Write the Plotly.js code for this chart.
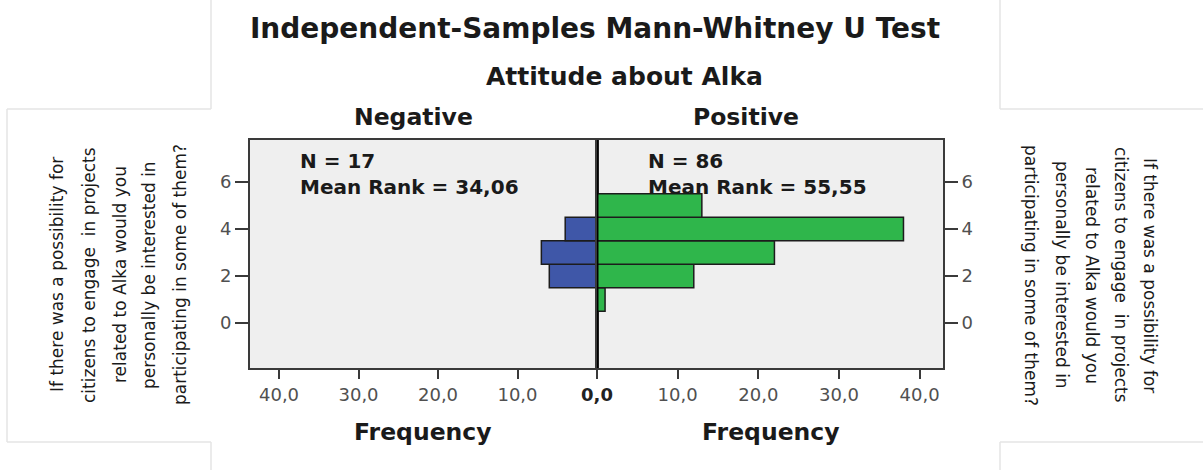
<!DOCTYPE html>
<html>
<head>
<meta charset="utf-8">
<script src="https://cdn.plot.ly/plotly-3.0.1.min.js"></script>
<style>
html,body{margin:0;padding:0;background:#fff;}
#chart{width:1203px;height:470px;}
</style>
</head>
<body>
<div id="chart"></div>
<script>
// ---- data ----
const bins = [1, 2, 3, 4, 5];
const negativeFreq = [0, 6, 7, 4, 0];
const positiveFreq = [1, 12, 22, 38, 13];
const groupNames = ['Negative', 'Positive'];
const groupN = [17, 86];
const groupMeanRank = ['34,06', '55,55'];
const xTickVals = [0, 10, 20, 30, 40];
const xTickText = ['0,0', '10,0', '20,0', '30,0', '40,0'];
const yTickVals = [0, 2, 4, 6];
const mainTitle = 'Independent-Samples Mann-Whitney U Test';
const groupingTitle = 'Attitude about Alka';
const xTitle = 'Frequency';
const questionLines = [
  'If there was a possibility for',
  'citizens to engage  in projects',
  'related to Alka would you',
  'personally be interested in',
  'participating in some of them?'
];

// ---- helpers (pixel -> paper) ----
const W = 1203, H = 470;
const px = v => v / W;
const py = v => 1 - v / H;

const FONT = 'DejaVu Sans, Liberation Sans, Arial, sans-serif';
const plotTop = 140, plotBottom = 368, plotLeft = 250, plotMid = 597, plotRight = 943;
const yRange = [-1.915, 7.787];

const traces = [
  {
    type: 'bar', orientation: 'h', y: bins, x: negativeFreq, width: 1,
    xaxis: 'x', yaxis: 'y',
    marker: {color: '#3F57A8', line: {color: '#1c1c1c', width: 1.5}},
    hoverinfo: 'x+y', showlegend: false
  },
  {
    type: 'bar', orientation: 'h', y: bins, x: positiveFreq, width: 1,
    xaxis: 'x2', yaxis: 'y2',
    marker: {color: '#2FB64B', line: {color: '#1c1c1c', width: 1.5}},
    hoverinfo: 'x+y', showlegend: false
  }
];

const axisLine = {showline: true, linecolor: '#3a3a3a', linewidth: 2, mirror: true,
  showgrid: false, zeroline: false, ticks: 'outside', tickcolor: '#3a3a3a', tickwidth: 2};

const tickFont = {family: FONT, size: 18, color: '#505050'};

const layout = {
  width: W, height: H,
  margin: {l: 0, r: 0, t: 0, b: 0},
  paper_bgcolor: '#ffffff',
  plot_bgcolor: '#EFEFEF',
  bargap: 0,
  title: {
    text: '<b>' + mainTitle + '</b>',
    x: px(595), y: py(28), xanchor: 'center', yanchor: 'middle',
    xref: 'paper', yref: 'paper',
    font: {family: FONT, size: 28, color: '#1a1a1a'}
  },
  xaxis: Object.assign({}, axisLine, {
    domain: [px(plotLeft), px(plotMid)], range: [43.65, 0], anchor: 'y',
    tickmode: 'array', tickvals: xTickVals,
    ticktext: xTickText.map((t, i) => i === 0 ? '<b><span style="color:#222">' + t + '</span></b>' : t),
    ticklen: 9, tickfont: tickFont
  }),
  xaxis2: Object.assign({}, axisLine, {
    domain: [px(plotMid), px(plotRight)], range: [0, 42.9], anchor: 'y2',
    tickmode: 'array', tickvals: xTickVals,
    ticktext: xTickText.map((t, i) => i === 0 ? '' : t),
    ticklen: 9, tickfont: tickFont
  }),
  yaxis: Object.assign({}, axisLine, {
    domain: [py(plotBottom), py(plotTop)], range: yRange, anchor: 'x',
    tickmode: 'array', tickvals: yTickVals, ticklen: 13, tickfont: tickFont
  }),
  yaxis2: Object.assign({}, axisLine, {
    domain: [py(plotBottom), py(plotTop)], range: yRange, anchor: 'x2', side: 'right',
    tickmode: 'array', tickvals: yTickVals, ticklen: 13, tickfont: tickFont
  }),
  shapes: [
    // central divider
    {type: 'line', xref: 'x2', yref: 'paper', x0: 0, x1: 0,
     y0: py(plotBottom), y1: py(plotTop), line: {color: '#000', width: 3}},
    // faint page frame artifacts
    ...[
      [211, 0, 211, 109], [7, 109, 211, 109], [7, 109, 7, 442], [7, 442, 211, 442], [211, 442, 211, 470],
      [1000, 0, 1000, 109], [1000, 109, 1203, 109], [1000, 442, 1203, 442], [1000, 442, 1000, 470]
    ].map(s => ({type: 'line', xref: 'paper', yref: 'paper', layer: 'below',
      x0: px(s[0]), y0: py(s[1]), x1: px(s[2]), y1: py(s[3]),
      line: {color: '#E4E4E4', width: 1.5}}))
  ],
  annotations: []
};

const ann = layout.annotations;
const addText = (text, x, y, size, opts) => ann.push(Object.assign({
  text: text, x: px(x), y: py(y), xref: 'paper', yref: 'paper',
  xanchor: 'center', yanchor: 'middle', showarrow: false,
  font: {family: FONT, size: size, color: '#1a1a1a'}
}, opts || {}));

addText('<b>' + groupingTitle + '</b>', 624, 76, 25);
addText('<b>' + groupNames[0] + '</b>', 413, 117, 23.5);
addText('<b>' + groupNames[1] + '</b>', 746, 117, 23.5);
addText('<b>' + xTitle + '</b>', 423, 432, 23.5);
addText('<b>' + xTitle + '</b>', 771, 432, 23.5);

// N / mean rank boxes (one text block per group)
addText('<b>N = ' + groupN[0] + '<br>Mean Rank = ' + groupMeanRank[0] + '</b>', 298, 174, 20,
  {xanchor: 'left', align: 'left'});
addText('<b>N = ' + groupN[1] + '<br>Mean Rank = ' + groupMeanRank[1] + '</b>', 646, 174, 20,
  {xanchor: 'left', align: 'left'});

// rotated y-axis titles (left reads upward, right reads downward)
const leftCols = [57, 89, 120, 149, 180];
const rightCols = [1150, 1121, 1092, 1062, 1031];
questionLines.forEach((line, i) => {
  addText(line, leftCols[i], 275, 17, {textangle: -90});
  addText(line, rightCols[i], 275, 17, {textangle: 90});
});

Plotly.newPlot('chart', traces, layout, {displayModeBar: false, staticPlot: true});
</script>
</body>
</html>
